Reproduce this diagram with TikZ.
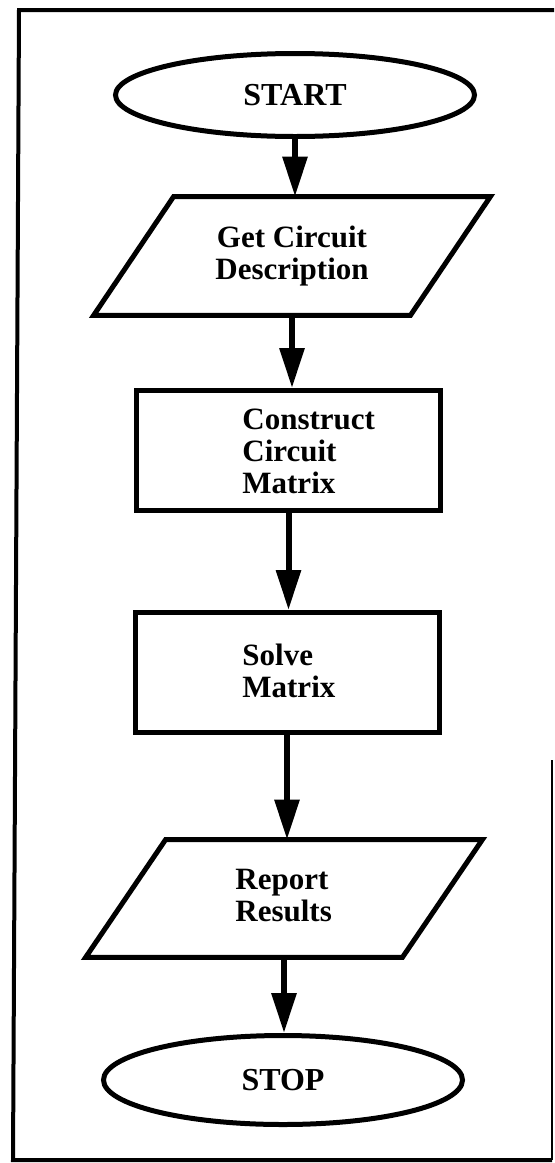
\documentclass[tikz,border=0pt]{standalone}
\usepackage{fontspec}
\setmainfont{Liberation Serif}
\usetikzlibrary{arrows.meta,shapes.geometric,calc}

\begin{document}
\begin{tikzpicture}[x=0.5pt,y=-0.5pt,
  outline/.style={draw, line width=2.5pt},
  txt/.style={font=\bfseries\fontsize{15.5}{16}\selectfont},
  terminal/.style={ellipse, outline, txt, inner sep=0pt, minimum width=179.5pt},
  process/.style={rectangle, outline, minimum width=152pt, minimum height=60pt},
  iobody/.style={rectangle, txt, align=center, inner sep=0pt, minimum width=158pt},
  flow/.style={line width=3pt, -{Triangle[length=20pt,width=12pt]}},
  frame/.style={line width=2pt}
]
\useasboundingbox (0,0) rectangle (554,1163);

% surrounding frame
\draw[frame] (554,10) -- (19,10) -- (13,1160) -- (552,1160);
\draw[line width=1.2pt] (552,760) -- (552,1160);

% terminals
\node[terminal, minimum height=41.5pt, font=\bfseries\fontsize{16}{17}\selectfont] (start) at (295,95) {START};
\node[terminal, minimum height=44.5pt, font=\bfseries\fontsize{16}{17}\selectfont] (stop) at (283,1080) {STOP};

% input / output (parallelograms drawn around a rectangular body)
\node[iobody, minimum height=59pt] (get) at (292,256) {Get Circuit\\Description};
\draw[outline] ($(get.north west)+(40,0)$) -- ($(get.north east)+(40,0)$)
  -- ($(get.south east)+(-40,0)$) -- ($(get.south west)+(-40,0)$) -- cycle;

\node[iobody, minimum height=58.5pt] (report) at (284,898.5) {};
\draw[outline] ($(report.north west)+(40,0)$) -- ($(report.north east)+(40,0)$)
  -- ($(report.south east)+(-40,0)$) -- ($(report.south west)+(-40,0)$) -- cycle;
\node[txt, align=left, anchor=west, inner sep=0pt] (reporttext) at (235,896) {Report\\Results};

% processing steps
\node[process] (construct) at (288.5,450.5) {};
\node[txt, align=left, anchor=west, inner sep=0pt] (constructtext) at (242,451) {Construct\\Circuit\\Matrix};

\node[process] (solve) at (287,672.5) {};
\node[txt, align=left, anchor=west, inner sep=0pt] (solvetext) at (242,671) {Solve\\Matrix};

% connectors
\draw[flow] (start.south) -- (start.south |- get.north);
\draw[flow] (get.south) -- (get.south |- construct.north);
\draw[flow] (construct.south) -- (construct.south |- solve.north);
\draw[flow] (solve.south) -- (solve.south |- report.north);
\draw[flow] (report.south) -- (report.south |- stop.north);
\end{tikzpicture}
\end{document}
